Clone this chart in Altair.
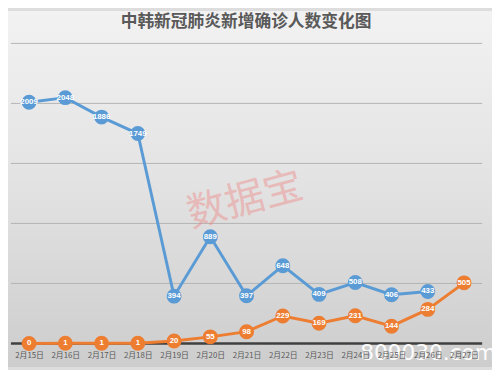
import altair as alt
import pandas as pd

dates = ["2月15日", "2月16日", "2月17日", "2月18日", "2月19日", "2月20日", "2月21日",
         "2月22日", "2月23日", "2月24日", "2月25日", "2月26日", "2月27日"]
china = [2009, 2048, 1886, 1749, 394, 889, 397, 648, 409, 508, 406, 433, None]
korea = [0, 1, 1, 1, 20, 55, 98, 229, 169, 231, 144, 284, 505]
grid_values = [500, 1000, 1500, 2000, 2500]
title_text = "中韩新冠肺炎新增确诊人数变化图"

W, H = 479, 305
FONT = "Noto Sans CJK SC"

rows = []
for d, c, k in zip(dates, china, korea):
    if c is not None:
        rows.append({"date": d, "series": "中国", "value": c})
    rows.append({"date": d, "series": "韩国", "value": k})
df = pd.DataFrame(rows)

one = pd.DataFrame({"a": [0]})
grid_df = pd.DataFrame({"value": grid_values})
base_df = pd.DataFrame({"value": [0]})

yscale = alt.Scale(domain=[0, 2500])

bg = alt.Chart(one).mark_rect(
    fill=alt.Gradient(
        gradient="linear",
        stops=[alt.GradientStop(color="#f2f2f2", offset=0),
               alt.GradientStop(color="#e2e2e2", offset=0.5),
               alt.GradientStop(color="#cdcdcd", offset=1)],
        x1=0, x2=0, y1=0, y2=1),
).encode(x=alt.value(-3), x2=alt.value(489), y=alt.value(-33), y2=alt.value(329))

grid = alt.Chart(grid_df).mark_rule(color="#b4b4b4", strokeWidth=1).encode(
    y=alt.Y("value:Q", scale=yscale, axis=None),
    x=alt.value(0), x2=alt.value(W))

baseline = alt.Chart(base_df).mark_rule(color="#404040", strokeWidth=2.5).encode(
    y=alt.Y("value:Q", scale=yscale, axis=None),
    x=alt.value(0), x2=alt.value(W))

xenc = alt.X("date:N", sort=dates, scale=alt.Scale(type="point", padding=0.5),
             axis=alt.Axis(title=None, labelAngle=0, ticks=False, grid=False,
                           domain=False, zindex=1,
                           labelFont=FONT, labelFontSize=8, labelColor="#595959",
                           labelPadding=8))
yenc = alt.Y("value:Q", scale=yscale, axis=None)
color = alt.Color("series:N", scale=alt.Scale(domain=["中国", "韩国"],
                                              range=["#5b9bd5", "#ed7d31"]), legend=None)

base = alt.Chart(df).encode(x=xenc, y=yenc, color=color)
lines = base.mark_line(strokeWidth=3)
pts = base.mark_circle(size=230, opacity=1)
labels = base.mark_text(fontSize=8, fontWeight="bold", font="Arial").encode(
    text="value:Q", color=alt.value("white"))

title = alt.Chart(one).mark_text(text=title_text, font=FONT, fontSize=17, fontWeight="bold",
                                 color="#595959", baseline="middle", align="center").encode(
    x=alt.value(239), y=alt.value(-22))

wm = alt.Chart(one).mark_text(text="数据宝", font=FONT, fontSize=40, color="#f08080",
                              opacity=0.4, angle=345, align="center",
                              baseline="middle").encode(x=alt.value(238), y=alt.value(160))

wm2 = alt.Chart(one).mark_text(text="809030.com", font="DejaVu Sans", fontSize=22,
                               color="white", opacity=0.95, align="center",
                               baseline="middle").encode(x=alt.value(424), y=alt.value(315))

chart = alt.layer(bg, grid, baseline, lines, pts, labels, title, wm, wm2).properties(
    width=W, height=H,
    autosize=alt.AutoSizeParams(type="none"),
    padding={"left": 3, "top": 33, "right": 10, "bottom": 24},
    background="#dddddd",
).configure_view(stroke=None)

chart.save("out.html", embed_options={"renderer": "svg", "actions": False})
